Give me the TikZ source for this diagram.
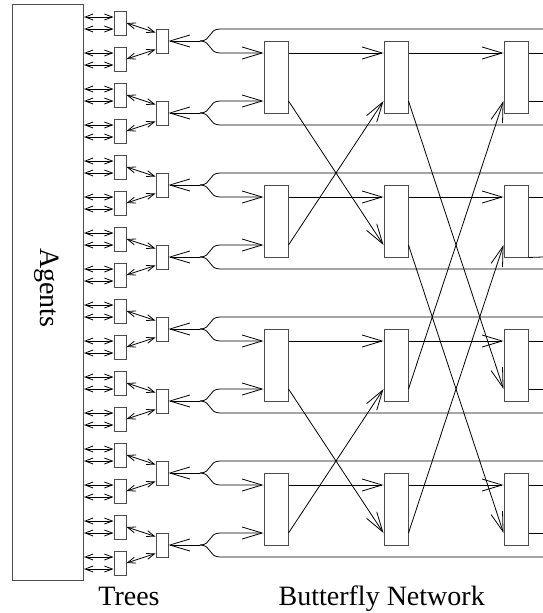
\documentclass[tikz,border=0pt]{standalone}
\usepackage{fontspec}
\setmainfont{Liberation Serif}
\usetikzlibrary{arrows.meta,calc}
\begin{document}
\begin{tikzpicture}[x=1pt,y=-1pt,
  box/.style={draw=black!70, line width=1pt, inner sep=0pt},
  leafbox/.style={box, minimum width=12pt, minimum height=24pt},
  bfbox/.style={box, minimum width=24pt, minimum height=72pt},
  wire/.style={draw=black, line width=0.8pt},
  big/.style={wire, -{Straight Barb[length=20pt,width=12pt,line width=0.8pt]}},
  dbl/.style={wire, line width=0.8pt, {Straight Barb[length=8pt,width=6pt]}-{Straight Barb[length=8pt,width=6pt]}},
  lbl/.style={font=\fontsize{28}{30}\selectfont, inner sep=0pt}]
\useasboundingbox (0,0) rectangle (543,613);
% Agents
\node[box, minimum width=71.5pt, minimum height=576pt] (agents) at (47.75,292) {};
\node[lbl, rotate=-90] (agentslbl) at (46.5,288) {Agents};
% leaves
\foreach \j in {0,...,15} {
  \pgfmathsetmacro{\yc}{23+36*\j}
  \node[leafbox] (leaf\j) at (120,\yc) {};
  \draw[dbl] ($(agents.east |- leaf\j.west)+(0,-6)$) -- ($(leaf\j.west)+(0,-6)$);
  \draw[dbl] ($(agents.east |- leaf\j.west)+(0,6)$) -- ($(leaf\j.west)+(0,6)$);
}
% middles
\foreach \k in {0,...,7} {
  \pgfmathsetmacro{\ym}{41+72*\k}
  \node[leafbox] (mid\k) at (162,\ym) {};
  \coordinate (f\k) at (200,\ym);
}
\foreach \k [evaluate=\k as \a using int(2*\k), evaluate=\k as \b using int(2*\k+1)] in {0,...,7} {
  \draw[dbl] (leaf\a.east) -- ($(mid\k.west)+(0,-8.5)$);
  \draw[dbl] (leaf\b.east) -- ($(mid\k.west)+(0,8.5)$);
  \draw[big] (f\k) -- (mid\k.east);
}
% butterfly boxes
\foreach \r in {0,...,3} {
  \pgfmathsetmacro{\yb}{77+144*\r}
  \node[bfbox] (bf1\r) at (276,\yb) {};
  \node[bfbox] (bf2\r) at (396,\yb) {};
  \node[bfbox] (bf3\r) at (516,\yb) {};
}
% branches from the tree roots
\foreach \r [evaluate=\r as \ke using int(2*\r), evaluate=\r as \ko using int(2*\r+1)] in {0,...,3} {
  \coordinate (eu\r) at (543,{29+144*\r});
  \coordinate (el\r) at (543,{125+144*\r});
  \draw[wire] (f\ke) .. controls ($(f\ke)+(12,0)$) and ($(f\ke)+(8,-12)$) .. ($(f\ke)+(20,-12)$) -- (eu\r);
  \draw[big] (f\ke) .. controls ($(f\ke)+(12,0)$) and ($(f\ke)+(8,12)$) .. ($(f\ke)+(20,12)$) -- ($(bf1\r.west)+(0,-24)$);
  \draw[big] (f\ko) .. controls ($(f\ko)+(12,0)$) and ($(f\ko)+(8,-12)$) .. ($(f\ko)+(20,-12)$) -- ($(bf1\r.west)+(0,24)$);
  \draw[wire] (f\ko) .. controls ($(f\ko)+(12,0)$) and ($(f\ko)+(8,12)$) .. ($(f\ko)+(20,12)$) -- (el\r);
  % straight links
  \draw[big] ($(bf1\r.east)+(0,-24)$) -- ($(bf2\r.west)+(0,-24)$);
  \draw[big] ($(bf2\r.east)+(0,-24)$) -- ($(bf3\r.west)+(0,-24)$);
  \coordinate (os\r) at (543,{53+144*\r});
  \draw[wire] ($(bf3\r.east)+(0,-24)$) -- (os\r);
}
% cross links, stage 1
\foreach \r/\s in {0/1,1/0,2/3,3/2} {
  \draw[big] ($(bf1\r.east)+(0,24)$) -- ($(bf2\s.west)+(0,24)$);
}
% cross links, stage 2
\foreach \r/\s in {0/2,1/3,2/0,3/1} {
  \draw[big] ($(bf2\r.east)+(0,24)$) -- ($(bf3\s.west)+(0,24)$);
}
% lower outputs of last stage
\coordinate (ol0) at (543,101);
\coordinate (ol1) at (543,257);
\coordinate (ol2) at (543,389);
\coordinate (ol3) at (543,533);
\draw[wire] ($(bf30.east)+(0,24)$) -- (ol0);
\draw[wire] (bf31.south east) -- (ol1);
\draw[wire] ($(bf32.east)+(0,24)$) -- (ol2);
\draw[wire] ($(bf33.east)+(0,24)$) -- (ol3);
% labels
\node[lbl, anchor=base] (trees) at (129,605) {Trees};
\node[lbl, anchor=base] (bfly) at (381.7,605) {Butterfly Network};
\end{tikzpicture}
\end{document}
